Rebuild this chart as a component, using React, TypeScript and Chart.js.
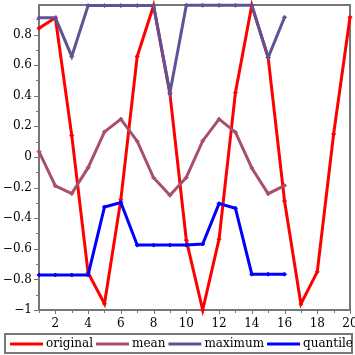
import React, { useEffect, useRef } from "react";
import { Chart, registerables } from "chart.js";

Chart.register(...registerables);

const X_ORIGINAL = [1, 2, 3, 4, 5, 6, 7, 8, 9, 10, 11, 12, 13, 14, 15, 16, 17, 18, 19, 20];
const ORIGINAL = [0.841, 0.909, 0.141, -0.757, -0.959, -0.279, 0.657, 0.989, 0.412, -0.544, -1.0, -0.537, 0.42, 0.991, 0.65, -0.288, -0.961, -0.751, 0.15, 0.913];
const X_WINDOW = [1, 2, 3, 4, 5, 6, 7, 8, 9, 10, 11, 12, 13, 14, 15, 16];
const MEAN = [0.035, -0.189, -0.239, -0.07, 0.164, 0.247, 0.103, -0.136, -0.25, -0.134, 0.105, 0.247, 0.162, -0.072, -0.24, -0.187];
const MAXIMUM = [0.909, 0.909, 0.657, 0.989, 0.989, 0.989, 0.989, 0.989, 0.42, 0.991, 0.991, 0.991, 0.991, 0.991, 0.65, 0.913];
const QUANTILE = [-0.771, -0.771, -0.771, -0.771, -0.327, -0.298, -0.576, -0.576, -0.576, -0.576, -0.569, -0.305, -0.335, -0.766, -0.766, -0.766];
const SERIES_NAMES = ["original", "mean", "maximum", "quantile"];
const SERIES_COLORS = ["#ff0000", "#a84f6b", "#5f5396", "#0000ff"];

const X_TICKS = [2, 4, 6, 8, 10, 12, 14, 16, 18, 20];
const X_MINOR = [1, 3, 5, 7, 9, 11, 13, 15, 17, 19];
const Y_TICKS = [-1, -0.8, -0.6, -0.4, -0.2, 0, 0.2, 0.4, 0.6, 0.8];
const Y_MINOR = [-0.9, -0.7, -0.5, -0.3, -0.1, 0.1, 0.3, 0.5, 0.7, 0.9];

const FONT = "DejaVu Serif";
const FRAME = "#777777";

function fmt(v: number): string {
  const r = Math.round(v * 10) / 10;
  if (r === 0) return "0";
  const s = String(Math.abs(r));
  return r < 0 ? "\u2212" + s : s;
}

const decor = {
  id: "decor",
  beforeDatasetsDraw(chart: any) {
    const { ctx, chartArea: a, scales } = chart;
    const x = scales.x;
    const y = scales.y;
    ctx.save();
    ctx.strokeStyle = FRAME;
    ctx.lineWidth = 1;
    ctx.beginPath();
    for (const v of Y_TICKS) {
      const p = Math.round(y.getPixelForValue(v)) + 0.5;
      ctx.moveTo(a.left - 5, p);
      ctx.lineTo(a.left, p);
    }
    for (const v of Y_MINOR) {
      const p = Math.round(y.getPixelForValue(v)) + 0.5;
      ctx.moveTo(a.left - 3, p);
      ctx.lineTo(a.left, p);
    }
    for (const v of X_TICKS) {
      const p = Math.round(x.getPixelForValue(v)) + 0.5;
      ctx.moveTo(p, a.bottom);
      ctx.lineTo(p, a.bottom + 4);
    }
    for (const v of X_MINOR) {
      const p = Math.round(x.getPixelForValue(v)) + 0.5;
      ctx.moveTo(p, a.bottom);
      ctx.lineTo(p, a.bottom + 3);
    }
    ctx.stroke();
    ctx.lineWidth = 2;
    ctx.beginPath();
    ctx.moveTo(a.left, a.top);
    ctx.lineTo(a.right, a.top);
    ctx.lineTo(a.right, a.bottom);
    ctx.lineTo(a.left, a.bottom);
    ctx.closePath();
    ctx.stroke();
    ctx.restore();
  },
  afterDraw(chart: any) {
    const { ctx } = chart;
    ctx.save();
    ctx.strokeStyle = FRAME;
    ctx.lineWidth = 2;
    ctx.strokeRect(5, 334, 347, 19);
    ctx.font = `12px "${FONT}"`;
    ctx.textBaseline = "middle";
    ctx.fillStyle = "#000";
    let cx = 10;
    const cy = 344;
    SERIES_NAMES.forEach((name, i) => {
      ctx.strokeStyle = SERIES_COLORS[i];
      ctx.lineWidth = 3;
      ctx.beginPath();
      ctx.moveTo(cx, cy);
      ctx.lineTo(cx + 33, cy);
      ctx.stroke();
      cx += 36;
      ctx.fillText(name, cx, cy);
      cx += ctx.measureText(name).width + 3;
    });
    ctx.restore();
  },
};

function pts(xs: number[], ys: number[]) {
  return xs.map((xv, i) => ({ x: xv, y: ys[i] }));
}

export default function App() {
  const ref = useRef<HTMLCanvasElement | null>(null);
  useEffect(() => {
    document.body.style.margin = "0";
    const canvas = ref.current;
    if (!canvas) return;
    const seriesData = [
      pts(X_ORIGINAL, ORIGINAL),
      pts(X_WINDOW, MEAN),
      pts(X_WINDOW, MAXIMUM),
      pts(X_WINDOW, QUANTILE),
    ];
    const chart = new Chart(canvas, {
      type: "line",
      data: {
        datasets: seriesData.map((d, i) => ({
          label: SERIES_NAMES[i],
          data: d,
          borderColor: SERIES_COLORS[i],
          backgroundColor: SERIES_COLORS[i],
          borderWidth: 3,
          pointStyle: "rectRot",
          pointRadius: 2,
          pointBorderWidth: 1,
          tension: 0,
          fill: false,
          clip: false,
          order: 4 - i,
        })),
      },
      options: {
        responsive: false,
        animation: false,
        devicePixelRatio: 1,
        layout: { padding: { top: 4, right: 3, left: 0, bottom: 25 } },
        plugins: { legend: { display: false }, tooltip: { enabled: false } },
        scales: {
          x: {
            type: "linear",
            min: 1,
            max: 20,
            grid: { display: false, drawTicks: false },
            border: { display: false },
            afterBuildTicks: (s: any) => {
              s.ticks = X_TICKS.map((v) => ({ value: v }));
            },
            afterFit: (s: any) => {
              s.height = 20;
              s.paddingLeft = 0;
              s.paddingRight = 0;
            },
            ticks: {
              autoSkip: false,
              maxRotation: 0,
              padding: 7,
              color: "#000",
              font: { family: FONT, size: 12 },
              callback: (v: any) => fmt(Number(v)),
            },
          },
          y: {
            type: "linear",
            min: -1,
            max: 0.993,
            grid: { display: false, drawTicks: false },
            border: { display: false },
            afterBuildTicks: (s: any) => {
              s.ticks = Y_TICKS.map((v) => ({ value: v }));
            },
            afterFit: (s: any) => {
              s.width = 39;
              s.paddingTop = 0;
              s.paddingBottom = 0;
            },
            ticks: {
              autoSkip: false,
              padding: 7,
              color: "#000",
              font: { family: FONT, size: 12 },
              callback: (v: any) => fmt(Number(v)),
            },
          },
        },
      },
      plugins: [decor],
    } as any);
    return () => chart.destroy();
  }, []);
  return (
    <div style={{ width: 355, height: 355 }}>
      <canvas ref={ref} width={355} height={355} style={{ display: "block" }} />
    </div>
  );
}
